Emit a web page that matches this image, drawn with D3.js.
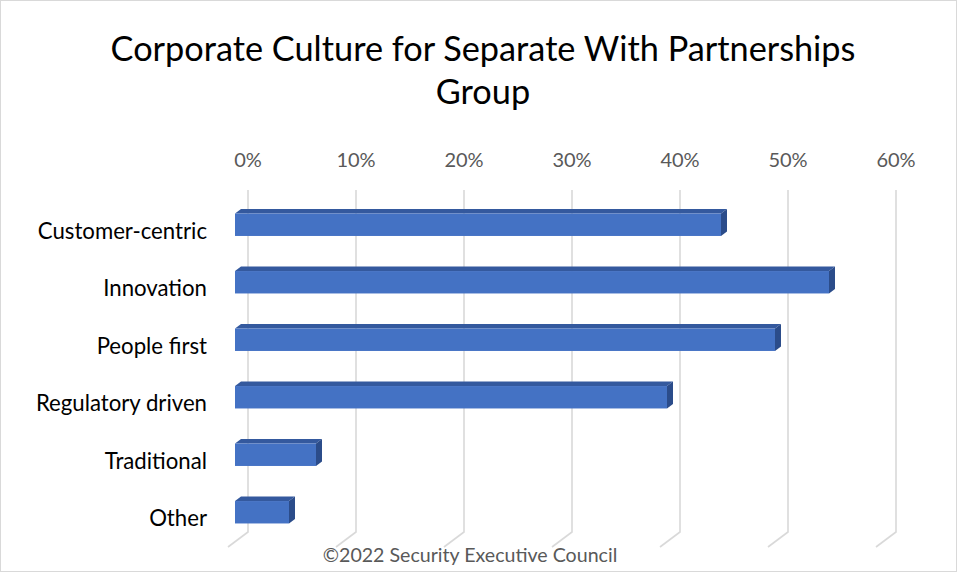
<!DOCTYPE html>
<html>
<head>
<meta charset="utf-8">
<script src="https://cdn.jsdelivr.net/npm/d3@7"></script>
<style>
  html, body { margin: 0; padding: 0; background: #fff; }
  svg { display: block; }
  text { font-family: Lato, "Noto Sans", "Liberation Sans", sans-serif; }
</style>
</head>
<body>
<svg id="chart" width="961" height="577"></svg>
<script>
// Chart data
const titleLines = ["Corporate Culture for Separate With Partnerships", "Group"];
const categories = ["Customer-centric", "Innovation", "People first", "Regulatory driven", "Traditional", "Other"];
const shares = [0.45, 0.55, 0.50, 0.40, 0.075, 0.05];
const tickValues = [0, 0.1, 0.2, 0.3, 0.4, 0.5, 0.6];
const footerText = "\u00A92022 Security Executive Council";

const svg = d3.select("#chart");

// Outer frame
svg.append("rect")
  .attr("x", 0.5).attr("y", 0.5)
  .attr("width", 956).attr("height", 571)
  .attr("fill", "#fff").attr("stroke", "#D9D9D9").attr("stroke-width", 1);

// Value scale on the back wall of the 3-D plot
const x = d3.scaleLinear().domain([0, 0.6]).range([248, 896]);
// Category bands on the front face of the bars
const y = d3.scaleBand().domain(categories).range([196, 541]);

// Oblique depth of the floor (back -> front)
const floor = { dx: -20, dy: 15 };
const frontFrac = 0.65, backFrac = 0.35;
const wallTop = 190, wallBottom = 532;
const barDepth = { dx: floor.dx * (backFrac - frontFrac), dy: floor.dy * (backFrac - frontFrac) };

// Grid lines on the back wall, with their feet on the floor
const grid = svg.append("g").attr("stroke", "#D9D9D9").attr("stroke-width", 1.6).attr("fill", "none");
tickValues.forEach(t => {
  const gx = x(t);
  grid.append("path")
    .attr("d", `M${gx},${wallTop}L${gx},${wallBottom}L${gx + floor.dx},${wallBottom + floor.dy}`);
});

// Tick labels above the plot
const fmt = d3.format(".0%");
svg.append("g").selectAll("text").data(tickValues).join("text")
  .attr("x", d => x(d))
  .attr("y", 167)
  .attr("text-anchor", "middle")
  .attr("fill", "#595959")
  .attr("font-size", 20)
  .text(d => fmt(d));

// 3-D bars
const frontColor = "#4472C4", topColor = "#34599E", sideColor = "#2B4C8A";
const barH = y.bandwidth() * 0.39;
const x0 = x(0) + floor.dx * frontFrac;
const bars = svg.append("g");
categories.forEach((c, i) => {
  const v = shares[i];
  const left = x0;
  const right = x(v) + floor.dx * frontFrac;
  const top = y(c) + (y.bandwidth() - barH) / 2;
  const bottom = top + barH;
  const dx = barDepth.dx, dy = barDepth.dy;
  // top face
  bars.append("path")
    .attr("d", `M${left},${top}L${left + dx},${top + dy}L${right + dx},${top + dy}L${right},${top}Z`)
    .attr("fill", topColor);
  // side face
  bars.append("path")
    .attr("d", `M${right},${top}L${right + dx},${top + dy}L${right + dx},${bottom + dy}L${right},${bottom}Z`)
    .attr("fill", sideColor);
  // front face
  bars.append("rect")
    .attr("x", left).attr("y", top)
    .attr("width", right - left).attr("height", barH)
    .attr("fill", frontColor);
});

// Category labels
svg.append("g").selectAll("text").data(categories).join("text")
  .attr("x", 207)
  .attr("y", d => y(d) + y.bandwidth() / 2 + 14)
  .attr("text-anchor", "end")
  .attr("fill", "#000")
  .attr("font-size", 22.2)
  .text(d => d);

// Title
svg.append("g").selectAll("text").data(titleLines).join("text")
  .attr("x", 483)
  .attr("y", (d, i) => 61 + i * 43)
  .attr("text-anchor", "middle")
  .attr("fill", "#000")
  .attr("font-size", 34.3)
  .text(d => d);

// Footer
svg.append("text")
  .attr("x", 470).attr("y", 562)
  .attr("text-anchor", "middle")
  .attr("fill", "#595959")
  .attr("font-size", 19.6)
  .text(footerText);
</script>
</body>
</html>
